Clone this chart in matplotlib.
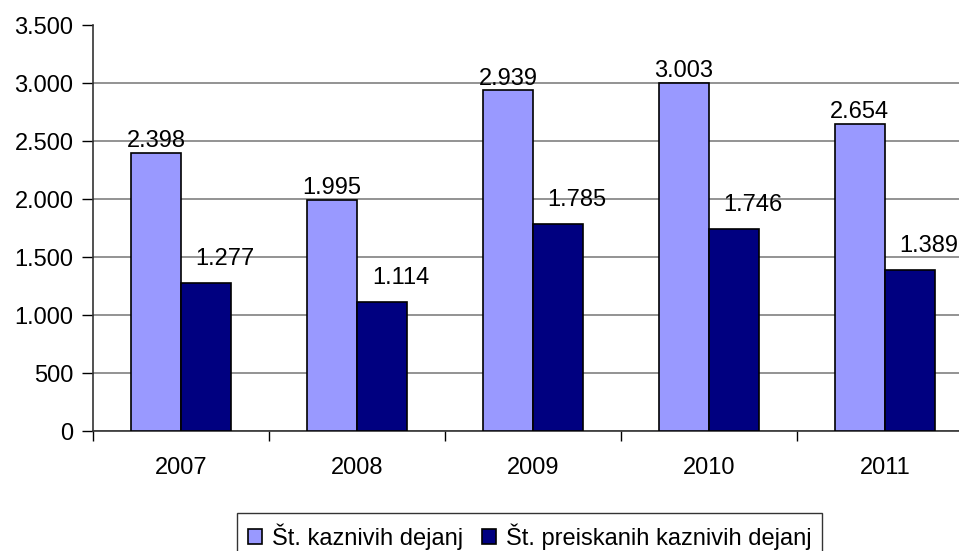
import matplotlib.pyplot as plt
import numpy as np

leta = ['2007', '2008', '2009', '2010', '2011']
kazniva = [2398, 1995, 2939, 3003, 2654]
preiskana = [1277, 1114, 1785, 1746, 1389]

plt.rcParams['font.family'] = ['Liberation Sans', 'DejaVu Sans']
fs = 17

def fmt(v):
    return f'{v:,}'.replace(',', '.')

fig = plt.figure(figsize=(9.59, 5.51), dpi=100)
ax = fig.add_axes([93 / 959, 120 / 551, 880 / 959, 405.5 / 551])

x = np.arange(len(leta))
w = 0.285
b1 = ax.bar(x - w / 2, kazniva, w, color='#9999FF', edgecolor='black', linewidth=1.2,
            label='Št. kaznivih dejanj', zorder=3)
b2 = ax.bar(x + w / 2, preiskana, w, color='#000080', edgecolor='black', linewidth=1.2,
            label='Št. preiskanih kaznivih dejanj', zorder=3)

# oznake vrednosti
for i in range(len(leta)):
    ax.annotate(fmt(kazniva[i]), (x[i] - w / 2, kazniva[i]), xytext=(0, 4.3),
                textcoords='offset points', ha='center', va='baseline', fontsize=fs, zorder=4)
    ax.annotate(fmt(preiskana[i]), (x[i] + w / 2, preiskana[i]), xytext=(13.7, 13),
                textcoords='offset points', ha='center', va='baseline', fontsize=fs, zorder=4)

ax.set_xlim(-0.5, len(leta) - 0.5)
ax.set_ylim(0, 3500)
ax.set_yticks(np.arange(0, 3501, 500))
ax.set_yticklabels([fmt(v) for v in range(0, 3501, 500)])
ax.yaxis.grid(True, color='#808080', linewidth=1.2, zorder=0)

ax.set_xticks(x)
ax.set_xticklabels(leta)
ax.set_xticks(np.arange(-0.5, len(leta)), minor=True)
ax.tick_params(axis='x', which='major', length=0, pad=19, labelsize=fs)
ax.tick_params(axis='x', which='minor', length=7, width=1, direction='out')
ax.tick_params(axis='y', length=8, width=1, direction='out', pad=6, labelsize=fs)

for s in ['top', 'right']:
    ax.spines[s].set_visible(False)
ax.spines['left'].set_color('#333333')
ax.spines['bottom'].set_color('#333333')
ax.spines['left'].set_linewidth(1.2)
ax.spines['bottom'].set_linewidth(1.2)

leg = fig.legend(handles=[b1, b2], loc='upper left', bbox_to_anchor=(237 / 959, 1 - 513 / 551),
                 ncol=2, frameon=True, fancybox=False, edgecolor='black', fontsize=fs,
                 handlelength=0.62, handleheight=0.62, handletextpad=0.4, columnspacing=0.8,
                 borderpad=0.45, borderaxespad=0)
leg.get_frame().set_linewidth(1)

fig.savefig('out.png', dpi=100)
